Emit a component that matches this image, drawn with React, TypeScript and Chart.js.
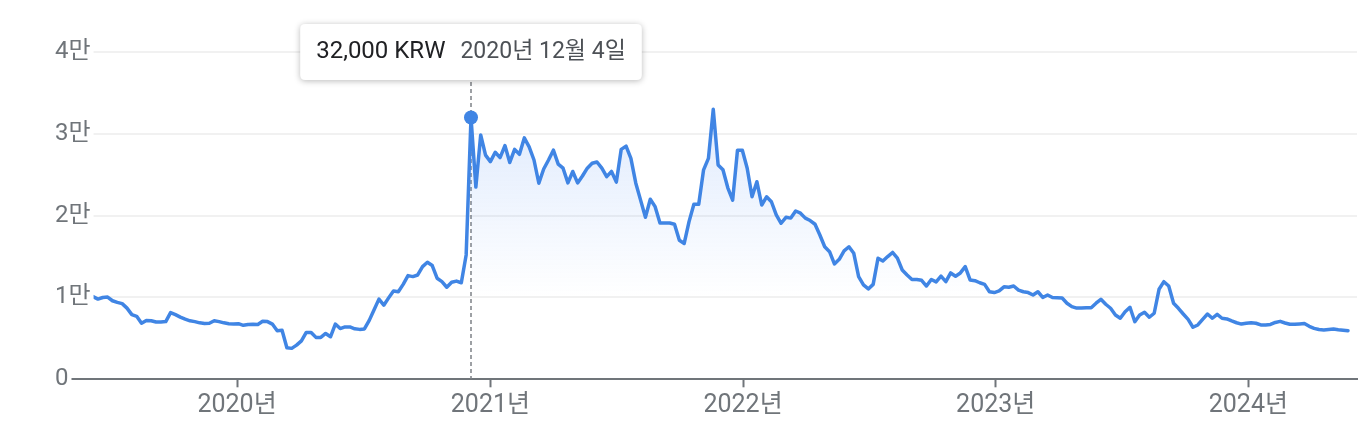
import React, { useEffect, useRef } from 'react';
import { Chart, registerables } from 'chart.js';

Chart.register(...registerables);

// ---- data (weekly closes, KRW) ----
const FIRST_WEEK = '2019-06-07';
const PRICES_2019 = [
  10100, 9800, 10000, 10050, 9600, 9400, 9250, 8700, 7900, 7700,
  6850, 7200, 7150, 7000, 7000, 7050, 8150, 7900, 7600, 7350,
  7150, 7050, 6900, 6830, 6850, 7150, 7050, 6900, 6800, 6750,
];
const PRICES_2020 = [
  6800, 6600, 6700, 6720, 6700, 7100, 7050, 6750, 5930, 6000,
  3850, 3780, 4180, 4700, 5730, 5730, 5120, 5120, 5600, 5200,
  6750, 6200, 6400, 6400, 6170, 6100, 6150, 7200, 8500, 9800,
  9060, 9950, 10800, 10700, 11600, 12670, 12550, 12750, 13770, 14300,
  13900, 12350, 11930, 11250, 11860, 12000, 11800, 15200, 32000, 23500,
  29870, 27400,
];
const PRICES_2021 = [
  26600, 27750, 27100, 28560, 26500, 28100, 27500, 29500, 28400, 26800,
  23960, 25700, 26800, 28000, 26300, 25800, 24000, 25400, 24000, 24850,
  25800, 26400, 26560, 25800, 24770, 25400, 24100, 28100, 28500, 27000,
  24000, 21900, 19800, 22000, 21100, 19100, 19100, 19100, 18950, 17000,
  16600, 19270, 21400, 21400, 25600, 27000, 33000, 26200, 25600, 23400,
  21900, 28000, 28000,
];
const PRICES_2022 = [
  25800, 22300, 24150, 21300, 22300, 21700, 20100, 19070, 19800, 19700,
  20570, 20300, 19700, 19400, 18950, 17640, 16200, 15600, 14100, 14670,
  15700, 16200, 15400, 12540, 11530, 11040, 11600, 14800, 14450, 15000,
  15500, 14800, 13360, 12750, 12200, 12200, 12100, 11400, 12200, 11900,
  12600, 11930, 13000, 12600, 13000, 13770, 12140, 12050, 11800, 11600,
  10700, 10600,
];
const PRICES_2023 = [
  10800, 11300, 11250, 11400, 10900, 10700, 10600, 10300, 10700, 10000,
  10300, 10000, 9970, 9940, 9300, 8880, 8700, 8700, 8750, 8750,
  9300, 9780, 9170, 8680, 7860, 7460, 8260, 8800, 7040, 7860,
  8190, 7580, 8070, 11000, 11930, 11400, 9300, 8680, 7980, 7330,
  6360, 6640, 7330, 7980, 7460, 7940, 7460, 7380, 7130, 6910,
  6750, 6840,
];
const PRICES_2024 = [
  6920, 6850, 6640, 6640, 6700, 6950, 7080, 6880, 6720, 6720,
  6760, 6810, 6480, 6230, 6080, 6030, 6090, 6140, 6060, 6000,
  5940,
];
const YEAR_TICKS = [2020, 2021, 2022, 2023, 2024];
const Y_TICKS = [0, 10000, 20000, 30000, 40000];
const CURRENCY = 'KRW';
const HIGHLIGHT_DATE = '2020-12-04';
const X_MIN_DATE = '2019-04-13';
const X_MAX_DATE = '2024-06-06';

// ---- derived ----
const DAY = 86400000;
const PRICES = [...PRICES_2019, ...PRICES_2020, ...PRICES_2021, ...PRICES_2022, ...PRICES_2023, ...PRICES_2024];
const toMs = (s: string) => Date.parse(s + 'T00:00:00Z');
const START = toMs(FIRST_WEEK);
const DATES = PRICES.map((_, i) => START + i * 7 * DAY);
const HL_X = toMs(HIGHLIGHT_DATE);
const HL_INDEX = DATES.indexOf(HL_X);

const FONT = 'Roboto, "Noto Sans CJK KR", "Noto Sans", sans-serif';
const LINE_COLOR = 'rgb(64,133,228)';
const TIP_TOP = 24;
const TIP_H = 56;

function fmtDate(ms: number) {
  const d = new Date(ms);
  return `${d.getUTCFullYear()}년 ${d.getUTCMonth() + 1}월 ${d.getUTCDate()}일`;
}

const highlightPlugin = {
  id: 'highlight',
  beforeDatasetsDraw(chart: any) {
    const { ctx, chartArea, scales } = chart;
    const px = scales.x.getPixelForValue(HL_X);
    ctx.save();
    ctx.strokeStyle = '#7d8186';
    ctx.lineWidth = 1.5;
    ctx.setLineDash([4, 3]);
    ctx.beginPath();
    ctx.moveTo(px, TIP_TOP + TIP_H + 2);
    ctx.lineTo(px, chartArea.bottom);
    ctx.stroke();
    ctx.restore();
  },
  afterDraw(chart: any) {
    const { ctx, scales } = chart;
    const px = scales.x.getPixelForValue(HL_X);
    const valueText = PRICES[HL_INDEX].toLocaleString('en-US') + ' ' + CURRENCY;
    const dateText = fmtDate(HL_X);
    ctx.save();
    const valueFont = `24px ${FONT}`;
    const dateFont = `23px ${FONT}`;
    ctx.font = valueFont;
    const w1 = ctx.measureText(valueText).width;
    ctx.font = dateFont;
    const w2 = ctx.measureText(dateText).width;
    const padX = 16;
    const gap = 15;
    const w = padX * 2 + w1 + gap + w2;
    const x0 = px - w / 2;
    const y0 = TIP_TOP;
    const r = 5;
    ctx.beginPath();
    ctx.moveTo(x0 + r, y0);
    ctx.lineTo(x0 + w - r, y0);
    ctx.quadraticCurveTo(x0 + w, y0, x0 + w, y0 + r);
    ctx.lineTo(x0 + w, y0 + TIP_H - r);
    ctx.quadraticCurveTo(x0 + w, y0 + TIP_H, x0 + w - r, y0 + TIP_H);
    ctx.lineTo(x0 + r, y0 + TIP_H);
    ctx.quadraticCurveTo(x0, y0 + TIP_H, x0, y0 + TIP_H - r);
    ctx.lineTo(x0, y0 + r);
    ctx.quadraticCurveTo(x0, y0, x0 + r, y0);
    ctx.closePath();
    ctx.shadowColor = 'rgba(0,0,0,0.28)';
    ctx.shadowBlur = 6;
    ctx.shadowOffsetY = 1;
    ctx.fillStyle = '#ffffff';
    ctx.fill();
    ctx.shadowColor = 'transparent';
    ctx.textBaseline = 'alphabetic';
    ctx.textAlign = 'left';
    ctx.font = valueFont;
    ctx.fillStyle = '#202124';
    ctx.fillText(valueText, x0 + padX, y0 + 34);
    ctx.font = dateFont;
    ctx.fillStyle = '#4d5156';
    ctx.fillText(dateText, x0 + padX + w1 + gap, y0 + 34);
    ctx.restore();
  },
};

export default function App() {
  const ref = useRef<HTMLCanvasElement>(null);
  useEffect(() => {
    const lineData = PRICES.map((v, i) => ({ x: DATES[i], y: v }));
    const fillData = PRICES.map((v, i) => ({ x: DATES[i], y: i >= HL_INDEX ? v : null }));
    const chart = new Chart(ref.current as HTMLCanvasElement, {
      type: 'line',
      data: {
        datasets: [
          {
            data: lineData as any,
            borderColor: LINE_COLOR,
            borderWidth: 3.5,
            borderJoinStyle: 'round',
            borderCapStyle: 'round',
            tension: 0,
            fill: false,
            pointRadius: (c: any) => (c.dataIndex === HL_INDEX ? 7 : 0),
            pointBackgroundColor: LINE_COLOR,
            pointBorderWidth: 0,
            order: 0,
          },
          {
            data: fillData as any,
            borderWidth: 0,
            borderColor: 'rgba(0,0,0,0)',
            pointRadius: 0,
            spanGaps: false,
            fill: 'origin',
            order: 1,
            backgroundColor: (c: any) => {
              const { chart: ch } = c;
              if (!ch.chartArea) return 'rgba(0,0,0,0)';
              const ys = ch.scales.y;
              const g = ch.ctx.createLinearGradient(0, ys.getPixelForValue(32000), 0, ys.getPixelForValue(10000));
              g.addColorStop(0, 'rgba(66,133,244,0.16)');
              g.addColorStop(1, 'rgba(66,133,244,0)');
              return g;
            },
          },
        ],
      },
      options: {
        animation: false,
        responsive: false,
        devicePixelRatio: 1,
        layout: { padding: { left: 55, right: 11, top: 52, bottom: 0 } },
        plugins: { legend: { display: false }, tooltip: { enabled: false } },
        events: [],
        scales: {
          x: {
            type: 'linear',
            min: toMs(X_MIN_DATE),
            max: toMs(X_MAX_DATE),
            afterBuildTicks: (s: any) => {
              s.ticks = YEAR_TICKS.map((y) => ({ value: Date.UTC(y, 0, 1) }));
            },
            afterFit: (s: any) => {
              s.height = 438 - 379.3;
            },
            ticks: {
              callback: (v: any) => `${new Date(v).getUTCFullYear()}년`,
              color: '#70757a',
              font: { family: FONT, size: 25 },
              padding: 3,
              maxRotation: 0,
              autoSkip: false,
            },
            grid: {
              display: true,
              drawOnChartArea: false,
              drawTicks: true,
              tickLength: 8,
              tickColor: '#70757a',
              tickWidth: 2,
            },
            border: { display: true, color: '#70757a', width: 2 },
          },
          y: {
            min: 0,
            max: 40000,
            afterBuildTicks: (s: any) => {
              s.ticks = Y_TICKS.map((v) => ({ value: v }));
            },
            afterFit: (s: any) => {
              s.width = 0;
            },
            ticks: {
              mirror: true,
              padding: 0,
              z: 1,
              color: '#70757a',
              font: { family: FONT, size: 24 },
              callback: (v: any) => (v === 0 ? '0' : `${v / 10000}만`),
              showLabelBackdrop: true,
              backdropColor: '#ffffff',
              backdropPadding: { top: 2, bottom: 2, left: 12, right: 3 },
            },
            grid: { color: '#f1f1f1', lineWidth: 2, drawTicks: false },
            border: { display: false },
          },
        },
      },
      plugins: [highlightPlugin],
    } as any);
    return () => chart.destroy();
  }, []);
  return (
    <div style={{ position: 'fixed', left: 0, top: 0, width: 1368, height: 438, background: '#fff' }}>
      <canvas ref={ref} width={1368} height={438} style={{ display: 'block', width: 1368, height: 438 }} />
    </div>
  );
}
